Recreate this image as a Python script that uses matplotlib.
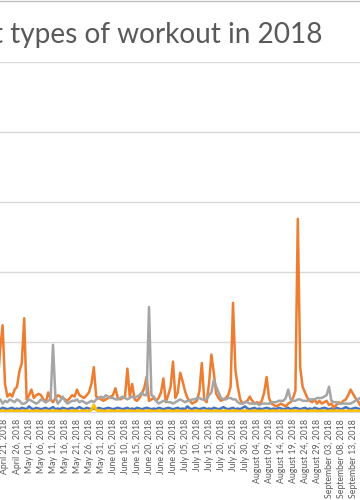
import numpy as np
import pandas as pd
import matplotlib
matplotlib.use('Agg')
import matplotlib.pyplot as plt
import matplotlib.dates as mdates

# =======================================================================================
# Data (daily, 2018-04-18 .. 2018-09-16)
# =======================================================================================

start_date = '2018-04-18'

orange = [20, 45, 62, 20, 11, 13, 11, 16, 18, 29,
          35, 67, 9, 12, 16, 10, 12, 13, 12, 9,
          7, 14, 9, 7, 10, 12, 11, 10, 9, 8,
          10, 12, 11, 16, 12, 11, 10, 12, 14, 20,
          32, 11, 10, 9, 8, 9, 10, 11, 12, 17,
          10, 9, 10, 11, 31, 11, 20, 9, 8, 10,
          13, 17, 25, 8, 9, 10, 8, 10, 14, 24,
          7, 12, 18, 36, 10, 14, 28, 22, 15, 10,
          8, 6, 7, 8, 15, 35, 9, 7, 20, 41,
          28, 13, 10, 8, 9, 10, 12, 18, 78, 30,
          18, 9, 6, 7, 8, 11, 8, 6, 7, 6,
          8, 14, 25, 10, 6, 5, 4, 5, 6, 5,
          4, 6, 7, 10, 15, 138, 32, 18, 14, 10,
          8, 7, 9, 6, 8, 6, 7, 8, 5, 6,
          3, 5, 7, 6, 8, 9, 12, 16, 13, 10,
          8, 5]

gray = [7, 9, 6, 8, 7, 9, 8, 7, 9, 8,
        6, 6, 7, 9, 8, 7, 6, 7, 9, 8,
        7, 8, 9, 48, 11, 6, 8, 11, 8, 6,
        7, 8, 8, 9, 7, 8, 7, 6, 7, 8,
        7, 9, 10, 11, 10, 12, 11, 10, 10, 9,
        9, 10, 11, 10, 9, 10, 11, 10, 11, 12,
        14, 12, 12, 75, 12, 11, 8, 6, 7, 8,
        8, 7, 7, 6, 7, 8, 9, 8, 7, 8,
        8, 9, 9, 10, 10, 9, 9, 9, 12, 14,
        23, 18, 14, 10, 9, 9, 10, 10, 9, 9,
        7, 6, 6, 7, 7, 6, 6, 6, 6, 5,
        6, 6, 6, 6, 7, 7, 7, 8, 8, 8,
        10, 16, 9, 8, 8, 9, 9, 8, 8, 8,
        9, 9, 9, 10, 10, 10, 11, 12, 18, 8,
        7, 7, 6, 6, 6, 6, 6, 6, 7, 8,
        9, 10]

blue = [2.5, 2.0, 3.0, 2.5, 2.0, 2.5, 3.0, 2.0, 2.5, 2.0,
        3.0, 2.5, 2.0, 4.0, 2.5, 2.0, 3.0, 2.5, 2.0, 2.5,
        3.0, 2.0, 2.5, 3.5, 2.0, 2.5, 2.0, 3.0, 2.5, 2.0,
        2.5, 3.0, 2.0, 2.5, 3.5, 2.5, 2.0, 3.0, 2.5, 2.0,
        2.5, 2.0, 3.0, 2.5, 2.0, 2.5, 3.0, 2.5, 2.0, 2.5,
        3.0, 2.5, 2.0, 2.5, 3.0, 2.0, 2.5, 2.0, 3.0, 2.5,
        2.0, 2.5, 3.0, 2.5, 2.0, 2.5, 2.0, 3.0, 2.5, 2.0,
        2.5, 3.0, 2.5, 2.0, 2.5, 3.0, 2.0, 2.5, 2.0, 4.0,
        2.5, 2.0, 3.0, 2.5, 2.0, 2.5, 3.0, 2.0, 2.5, 2.0,
        3.0, 2.5, 2.0, 2.5, 3.5, 2.5, 2.0, 2.5, 3.0, 2.0,
        2.5, 2.0, 3.0, 4.0, 2.5, 2.0, 2.5, 3.0, 2.0, 2.5,
        2.0, 2.5, 3.0, 2.5, 2.0, 2.5, 2.0, 3.0, 2.5, 2.0,
        2.5, 3.0, 2.0, 2.5, 3.0, 2.5, 2.0, 2.5, 3.0, 2.0,
        2.5, 2.0, 3.0, 2.5, 2.0, 2.5, 3.0, 2.5, 2.0, 2.5,
        2.0, 3.0, 2.5, 2.0, 2.5, 3.5, 2.5, 2.0, 2.5, 3.0,
        2.5, 2.0]

yellow = [1.0, 0.8, 1.0, 0.6, 0.8, 1.0, 0.8, 0.6, 1.0, 0.8,
          0.6, 0.8, 1.0, 0.8, 0.6, 0.8, 1.0, 0.8, 0.6, 0.8,
          1.0, 0.8, 0.6, 0.8, 1.0, 0.8, 0.6, 0.8, 1.0, 0.8,
          0.6, 0.8, 1.0, 0.8, 0.6, 0.8, 1.0, 0.8, 0.6, 1.5,
          5.0, 1.5, 0.8, 1.0, 0.8, 0.6, 0.8, 1.0, 0.8, 0.6,
          0.8, 1.0, 0.8, 0.6, 0.8, 1.0, 0.8, 0.6, 0.8, 1.0,
          0.8, 0.6, 0.8, 1.0, 0.8, 0.6, 0.8, 1.0, 0.8, 0.6,
          0.8, 1.0, 0.8, 0.6, 0.8, 1.0, 0.8, 0.6, 0.8, 1.0,
          0.8, 0.6, 0.8, 1.0, 0.8, 0.6, 0.8, 1.0, 0.8, 0.6,
          0.8, 1.0, 0.8, 0.6, 0.8, 1.0, 0.8, 0.6, 0.8, 1.0,
          0.8, 0.6, 0.8, 1.0, 0.8, 0.6, 0.8, 1.0, 0.8, 0.6,
          0.8, 1.0, 0.8, 0.6, 0.8, 1.0, 0.8, 0.6, 0.8, 1.0,
          0.8, 0.6, 0.8, 1.0, 0.8, 0.6, 0.8, 1.0, 0.8, 0.6,
          0.8, 1.0, 0.8, 0.6, 0.8, 1.0, 0.8, 0.6, 0.8, 1.0,
          0.8, 0.6, 0.8, 1.0, 0.8, 0.6, 0.8, 1.0, 0.8, 0.6,
          0.8, 1.0]

title_text = 'Different types of workout in 2018'

# =======================================================================================
# Plot
# =======================================================================================

dates = pd.date_range(start_date, periods=len(orange))

fig = plt.figure(figsize=(3.6, 5.0), dpi=100, facecolor='w')
ax = fig.add_axes([0.0, 0.176, 1.0, 0.70])

# Excel series order: blue, orange, gray, yellow
ax.plot(dates, blue, color='#4472C4', lw=1.8, solid_joinstyle='round')
ax.plot(dates, orange, color='#ED7D31', lw=1.8, solid_joinstyle='round')
ax.plot(dates, gray, color='#A5A5A5', lw=1.8, solid_joinstyle='round')
ax.plot(dates, yellow, color='#FFC000', lw=2.0, solid_joinstyle='round')

# visible window is a crop of the full chart
d0 = mdates.date2num(pd.Timestamp('2018-04-21'))
ax.set_xlim(d0 - 5 / 2.4, d0 + 355 / 2.4)
ax.set_ylim(0, 250)

ax.set_yticks(np.arange(0, 251, 50))
ax.set_yticklabels([])
ax.tick_params(axis='y', length=0)
ax.grid(axis='y', color='#d9d9d9', lw=1.0)
ax.set_axisbelow(True)

tick_dates = pd.date_range('2018-04-21', '2018-09-16', freq='5D')
ax.set_xticks(tick_dates)
ax.set_xticklabels([d.strftime('%B %d, %Y') for d in tick_dates],
                   rotation=90, fontsize=6.3, color='#595959', family='Lato')
ax.tick_params(axis='x', length=0, pad=5)

for s in ['top', 'left', 'right']:
    ax.spines[s].set_visible(False)
ax.spines['bottom'].set_color('#d9d9d9')

fig.text(323 / 360, 1 - 43 / 500, title_text, ha='right', va='baseline',
         fontsize=20.2, color='#595959', family='Lato')

# chart border at top
fig.add_artist(plt.Line2D([0, 1], [0.999, 0.999], color='#bfbfbf', lw=1.0))

fig.savefig('out.png', dpi=100, facecolor='w')
